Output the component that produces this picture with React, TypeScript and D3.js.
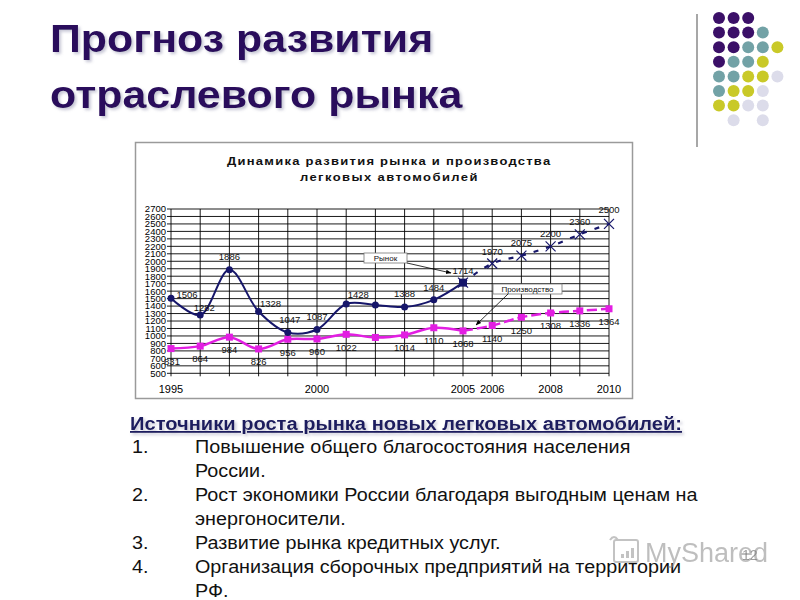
import React from "react";
import * as d3 from "d3";

const years = [1995, 1996, 1997, 1998, 1999, 2000, 2001, 2002, 2003, 2004, 2005, 2006, 2007, 2008, 2009, 2010];
const marketValues = [1506, 1282, 1886, 1328, 1047, 1087, 1428, 1415, 1388, 1484, 1714, 1970, 2075, 2200, 2360, 2500];
const productionValues = [831, 864, 984, 826, 956, 960, 1022, 980, 1014, 1110, 1068, 1140, 1250, 1308, 1336, 1364];
const marketLabelShown = [true, true, true, true, true, true, true, false, true, true, true, true, true, true, true, true];
const productionLabelShown = [true, true, true, true, true, true, true, false, true, true, true, true, true, true, true, true];
const xTickLabels = [1995, 2000, 2005, 2006, 2008, 2010];
const yTicks = d3.range(500, 2701, 100);
const forecastStartYear = 2005;

// label placement (style, not data)
const marketLabelDx = [16, 4, 0, 12, 2, 0, 12, 0, 0, 0, 0, 0, 0, 0, 0, 0];
const marketLabelDy = [-3, -7, -13, -8, -13, -13, -9, -13, -13, -12, -12, -12, -13, -13, -13, -14];

const mainTitle = ["Прогноз развития", "отраслевого рынка"];
const chartTitle = ["Динамика развития рынка и производства", "легковых автомобилей"];
const marketName = "Рынок";
const productionName = "Производство";
const heading = "Источники роста рынка новых легковых автомобилей:";
const listItems = [
  { n: "1.", lines: ["Повышение общего благосостояния населения", "России."] },
  { n: "2.", lines: ["Рост экономики России благодаря выгодным ценам на", "энергоносители."] },
  { n: "3.", lines: ["Развитие рынка кредитных услуг."] },
  { n: "4.", lines: ["Организация сборочных предприятий на территории", "РФ."] },
];

const dotColors = {
  P: "#3b1068",
  T: "#72a2a6",
  Y: "#c9c928",
  L: "#dcdcea",
};
const dotGrid = ["PPP..", "PPPT.", "PPTTY", "PTTY.", "TTYYL", "TYYL.", "YYLL.", ".L.L."];

const NAVY = "#16166a";
const MAGENTA = "#e21ee2";
const STRETCH = 1.13;

export default function App() {
  const x = d3.scaleLinear().domain([1995, 2010]).range([171, 609]);
  const y = d3.scaleLinear().domain([500, 2700]).range([373.3, 209]);

  const mPts = years.map((yr, i) => [x(yr), y(marketValues[i])] as [number, number]);
  const pPts = years.map((yr, i) => [x(yr), y(productionValues[i])] as [number, number]);
  const split = years.indexOf(forecastStartYear);
  const line = d3.line().curve(d3.curveCatmullRom.alpha(0.5));

  const font = "'Liberation Sans', Arial, sans-serif";

  let lineY = 453;
  const listRows: { n?: string; t: string; y: number }[] = [];
  listItems.forEach((it) => {
    it.lines.forEach((t, j) => {
      listRows.push({ n: j === 0 ? it.n : undefined, t, y: lineY });
      lineY += 24;
    });
  });

  return (
    <div style={{ position: "absolute", left: 0, top: 0 }}>
      <svg width={800} height={600} style={{ display: "block", background: "#fff" }} fontFamily={font}>
        <defs>
          <filter id="shadow" x="-5%" y="-5%" width="110%" height="130%">
            <feDropShadow dx="2" dy="2" stdDeviation="1.5" floodColor="#8080a0" floodOpacity="0.45" />
          </filter>
          <marker id="arrow" viewBox="0 0 10 10" refX="9" refY="5" markerWidth="7" markerHeight="7" orient="auto">
            <path d="M0,1 L10,5 L0,9 z" fill="#000" />
          </marker>
        </defs>
        <rect width={800} height={600} fill="#fff" />

        {/* main title */}
        <g filter="url(#shadow)">
          {mainTitle.map((t, i) => (
            <text key={i} transform={`translate(50,${52 + i * 56}) scale(${STRETCH},1)`} fontSize={38} fontWeight="bold" fill="#2a0b5c">
              {t}
            </text>
          ))}
        </g>

        {/* decorative dots */}
        <line x1={697} x2={697} y1={14} y2={147} stroke="#8a8a8a" strokeWidth={1.5} />
        {dotGrid.map((row, r) =>
          row.split("").map((c, ci) =>
            c === "." ? null : (
              <circle key={`${r}-${ci}`} cx={719 + ci * 14.6} cy={18 + r * 14.6} r={6} fill={(dotColors as any)[c]} />
            )
          )
        )}

        {/* chart frame */}
        <rect x={135.5} y={142.5} width={497} height={256} fill="#fff" stroke="#9a9a9a" strokeWidth={1.5} />
        <text transform={`translate(227,165) scale(${STRETCH},1)`} fontSize={11.5} fontWeight="bold" fill="#111" textLength={286} lengthAdjust="spacing">
          {chartTitle[0]}
        </text>
        <text transform={`translate(300,181) scale(${STRETCH},1)`} fontSize={11.5} fontWeight="bold" fill="#111" textLength={157} lengthAdjust="spacing">
          {chartTitle[1]}
        </text>

        {/* grid */}
        {yTicks.map((v) => (
          <g key={v}>
            <line x1={x(1995) - 4} x2={x(2010)} y1={y(v)} y2={y(v)} stroke="#000" strokeWidth={0.9} />
            <text x={x(1995) - 5} y={y(v) + 3.4} textAnchor="end" fontSize={9.5} fill="#000">
              {v}
            </text>
          </g>
        ))}
        {years.map((yr) => (
          <line key={yr} x1={x(yr)} x2={x(yr)} y1={y(2700)} y2={y(500) + 3} stroke="#000" strokeWidth={0.9} />
        ))}
        {xTickLabels.map((yr) => (
          <text key={yr} x={x(yr)} y={393} textAnchor="middle" fontSize={11} fill="#000">
            {yr}
          </text>
        ))}

        {/* production */}
        <path d={line(pPts.slice(0, split + 1)) || ""} fill="none" stroke={MAGENTA} strokeWidth={2.5} />
        <path d={line(pPts.slice(split)) || ""} fill="none" stroke={MAGENTA} strokeWidth={2.5} strokeDasharray="10,4" />
        {pPts.map(([px, py], i) => (
          <rect key={i} x={px - 3.5} y={py - 3.5} width={7} height={7} fill={MAGENTA} />
        ))}

        {/* market */}
        <path d={line(mPts.slice(0, split + 1)) || ""} fill="none" stroke={NAVY} strokeWidth={2} />
        <path d={line(mPts.slice(split)) || ""} fill="none" stroke={NAVY} strokeWidth={2.2} strokeDasharray="5,8" />
        {mPts.map(([px, py], i) =>
          i < split ? (
            <circle key={i} cx={px} cy={py} r={3.5} fill={NAVY} />
          ) : (
            <g key={i} stroke={NAVY} strokeWidth={1.2}>
              {i === split && <rect x={px - 4} y={py - 4} width={8} height={8} fill={NAVY} stroke="none" />}
              <line x1={px - 5} x2={px + 5} y1={py - 5} y2={py + 5} />
              <line x1={px - 5} x2={px + 5} y1={py + 5} y2={py - 5} />
            </g>
          )
        )}

        {/* data labels */}
        {mPts.map(([px, py], i) =>
          marketLabelShown[i] ? (
            <text key={i} x={px + marketLabelDx[i]} y={py + marketLabelDy[i] + 3.3} textAnchor="middle" fontSize={9.5} fill="#111">
              {marketValues[i]}
            </text>
          ) : null
        )}
        {pPts.map(([px, py], i) =>
          productionLabelShown[i] ? (
            <text key={i} x={px + (i === 0 ? 1 : 0)} y={py + 13 + 3.3} textAnchor="middle" fontSize={9.5} fill="#111">
              {productionValues[i]}
            </text>
          ) : null
        )}

        {/* callouts */}
        <rect x={364} y={253} width={43} height={10} fill="#fff" stroke="#777" strokeWidth={0.8} />
        <text x={385.5} y={261} textAnchor="middle" fontSize={8} fill="#111">{marketName}</text>
        <line x1={407} y1={263} x2={451} y2={273} stroke="#000" strokeWidth={0.8} markerEnd="url(#arrow)" />
        <rect x={493} y={284} width={69} height={10} fill="#fff" stroke="#777" strokeWidth={0.8} />
        <text x={527.5} y={292} textAnchor="middle" fontSize={8} fill="#111">{productionName}</text>
        <line x1={508} y1={294} x2={476} y2={325} stroke="#000" strokeWidth={0.8} markerEnd="url(#arrow)" />

        {/* text block */}
        <g filter="url(#shadow)">
          <text x={130} y={430} fontSize={18} fontWeight="bold" fill="#1b1b5e" textDecoration="underline" textLength={552} lengthAdjust="spacingAndGlyphs">
            {heading}
          </text>
        </g>
        {listRows.map((r, i) => (
          <g key={i}>
            {r.n && (
              <text transform={`translate(132,${r.y}) scale(${STRETCH},1)`} fontSize={17.5} fill="#111">
                {r.n}
              </text>
            )}
            <text transform={`translate(195,${r.y}) scale(${STRETCH},1)`} fontSize={17.5} fill="#111">
              {r.t}
            </text>
          </g>
        ))}

        {/* watermark & page number */}
        <g opacity={0.5} stroke="#888" fill="none" strokeWidth={2}>
          <rect x={614} y={540} width={24} height={22} rx={2} />
          <path d="M610,540 q4,-6 8,0" />
        </g>
        <g opacity={0.5} fill="#888">
          <rect x={621} y={554} width={3} height={4} />
          <rect x={626} y={551} width={3} height={7} />
          <rect x={631} y={548} width={3} height={10} />
        </g>
        <text x={645} y={562} fontSize={27} fill="#8a8a8a" opacity={0.55}>MyShared</text>
        <text x={742} y={560} fontSize={14} fill="#777" opacity={0.7}>12</text>
      </svg>
    </div>
  );
}
